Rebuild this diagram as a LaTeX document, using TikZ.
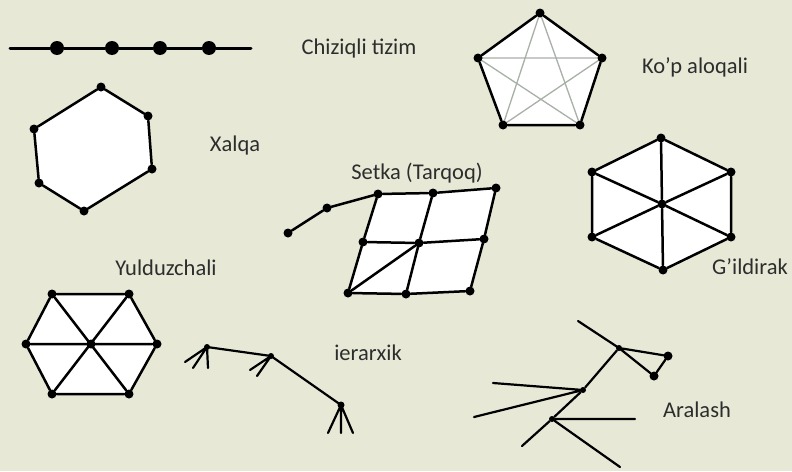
\documentclass[tikz,border=0pt]{standalone}
\usepackage{fontspec}
\setmainfont{Carlito}
\usetikzlibrary{backgrounds}
\definecolor{bgcol}{RGB}{231,233,214}
\definecolor{txtcol}{RGB}{45,45,45}
\definecolor{starcol}{RGB}{168,176,168}

\begin{document}
\begin{tikzpicture}[
  x=1pt, y=-1pt,
  font=\fontsize{22.5}{26}\selectfont,
  dot/.style={circle, fill=black, inner sep=0pt, minimum size=9pt},
  bigdot/.style={circle, fill=black, inner sep=0pt, minimum size=14pt},
  link/.style={line width=2.5pt, line cap=round, line join=round},
  thinlink/.style={line width=1.3pt, draw=starcol},
  title/.style={text=txtcol, inner sep=0pt, anchor=base}
]

% Background
\begin{scope}[on background layer]
  \fill[bgcol] (0,0) rectangle (792,471);
\end{scope}

% Chiziqli tizim
\coordinate (l0) at (10,48);
\coordinate (l5) at (251,48);
\node[bigdot] (l1) at (57,48) {};
\node[bigdot] (l2) at (112,48) {};
\node[bigdot] (l3) at (160,48) {};
\node[bigdot] (l4) at (209,48) {};
\draw[link, line width=3pt] (l0) -- (l1) -- (l2) -- (l3) -- (l4) -- (l5);
\node[title] (tline) at (359,54) {Chiziqli tizim};

% Ko'p aloqali
\node[dot] (p1) at (540,13) {};
\node[dot] (p2) at (602,58) {};
\node[dot] (p3) at (580,125) {};
\node[dot] (p4) at (503,125) {};
\node[dot] (p5) at (478,58) {};
\begin{scope}[on background layer]
  \fill[white] (p1.center) -- (p2.center) -- (p3.center) -- (p4.center) -- (p5.center) -- cycle;
  \draw[thinlink] (p1.center) -- (p3.center) (p1.center) -- (p4.center)
    (p2.center) -- (p4.center) (p2.center) -- (p5.center) (p3.center) -- (p5.center);
\end{scope}
\draw[link] (p1) -- (p2) -- (p3) -- (p4) -- (p5) -- (p1);
\node[title] (tmulti) at (695,73) {Ko’p aloqali};

% Xalqa
\node[dot] (r1) at (101,87) {};
\node[dot] (r2) at (148,116) {};
\node[dot] (r3) at (152,169) {};
\node[dot] (r4) at (84,211) {};
\node[dot] (r5) at (39,183) {};
\node[dot] (r6) at (34,129) {};
\begin{scope}[on background layer]
  \fill[white] (r1.center) -- (r2.center) -- (r3.center) -- (r4.center) -- (r5.center) -- (r6.center) -- cycle;
\end{scope}
\draw[link] (r1) -- (r2) -- (r3) -- (r4) -- (r5) -- (r6) -- (r1);
\node[title] (tring) at (235,151) {Xalqa};

% Setka (Tarqoq)
\node[dot] (s1) at (288,233) {};
\node[dot] (s2) at (327,208) {};
\node[dot] (ga) at (378,194) {};
\node[dot] (gb) at (433,193) {};
\node[dot] (gc) at (496,188) {};
\node[dot] (gd) at (363,242) {};
\node[dot] (ge) at (419,243) {};
\node[dot] (gf) at (484,239) {};
\node[dot] (gg) at (348,293) {};
\node[dot] (gh) at (406,294) {};
\node[dot] (gi) at (470,291) {};
\begin{scope}[on background layer]
  \fill[white] (ga.center) -- (gc.center) -- (gi.center) -- (gg.center) -- cycle;
\end{scope}
\draw[link] (s1) -- (s2) -- (ga) -- (gb) -- (gc);
\draw[link] (gd) -- (ge) -- (gf);
\draw[link] (gg) -- (gh) -- (gi);
\draw[link] (ga) -- (gd) -- (gg);
\draw[link] (gb) -- (ge) -- (gh);
\draw[link] (gc) -- (gf) -- (gi);
\draw[link] (gg) -- (ge);
\node[title] (tgrid) at (417,179) {Setka (Tarqoq)};

% G'ildirak
\node[dot] (w0) at (662,204) {};
\node[dot] (w1) at (661,138) {};
\node[dot] (w2) at (731,172) {};
\node[dot] (w3) at (731,237) {};
\node[dot] (w4) at (663,270) {};
\node[dot] (w5) at (592,237) {};
\node[dot] (w6) at (592,172) {};
\begin{scope}[on background layer]
  \fill[white] (w1.center) -- (w2.center) -- (w3.center) -- (w4.center) -- (w5.center) -- (w6.center) -- cycle;
\end{scope}
\draw[link] (w1) -- (w2) -- (w3) -- (w4) -- (w5) -- (w6) -- (w1);
\foreach \k in {1,...,6}
  \draw[link] (w0) -- (w\k);
\node[title] (twheel) at (750,274) {G’ildirak};

% Yulduzchali
\node[dot] (y0) at (91,344) {};
\node[dot] (y1) at (52,294) {};
\node[dot] (y2) at (129,294) {};
\node[dot] (y3) at (157,344) {};
\node[dot] (y4) at (129,394) {};
\node[dot] (y5) at (52,394) {};
\node[dot] (y6) at (26,344) {};
\begin{scope}[on background layer]
  \fill[white] (y1.center) -- (y2.center) -- (y3.center) -- (y4.center) -- (y5.center) -- (y6.center) -- cycle;
\end{scope}
\draw[link] (y1) -- (y2) -- (y3) -- (y4) -- (y5) -- (y6) -- (y1);
\draw[link] (y1) -- (y4) (y2) -- (y5) (y3) -- (y6);
\node[title] (tstar) at (166,275) {Yulduzchali};

% ierarxik
\coordinate (h1) at (207,347);
\coordinate (h2) at (271,356);
\coordinate (h3) at (341,405);
\coordinate (h1a) at (185,362);
\coordinate (h1b) at (193,368);
\coordinate (h1c) at (208,368);
\coordinate (h2a) at (250,370);
\coordinate (h2b) at (257,376);
\coordinate (h3a) at (328,433);
\coordinate (h3b) at (341,433);
\coordinate (h3c) at (353,433);
\draw[link, line width=2.2pt] (h1) -- (h2) -- (h3);
\draw[link, line width=2.2pt] (h1) -- (h1a) (h1) -- (h1b) (h1) -- (h1c);
\draw[link, line width=2.2pt] (h2) -- (h2a) (h2) -- (h2b);
\draw[link, line width=2.2pt] (h3) -- (h3a) (h3) -- (h3b) (h3) -- (h3c);
\fill (h1) circle (3pt) (h2) circle (3pt) (h3) circle (3.5pt);
\node[title] (ttree) at (368,360) {ierarxik};

% Aralash
\node[dot, minimum size=6pt] (m1) at (619,348) {};
\node[dot] (m2) at (668,356) {};
\node[dot] (m3) at (654,376) {};
\node[dot, minimum size=6pt] (m4) at (583,390) {};
\node[dot, minimum size=6pt] (m5) at (552,419) {};
\coordinate (m1a) at (578,321);
\coordinate (m4a) at (493,383);
\coordinate (m4b) at (474,417);
\coordinate (m5a) at (522,446);
\coordinate (m5b) at (635,419);
\coordinate (m5c) at (620,467);
\draw[link, line width=2.2pt] (m1a) -- (m1.center) -- (m3) -- (m2) -- (m1);
\draw[link, line width=2.2pt] (m1) -- (m4) -- (m5) -- (m5a);
\draw[link, line width=2.2pt] (m4a) -- (m4) -- (m4b);
\draw[link, line width=2.2pt] (m5b) -- (m5) -- (m5c);
\node[title] (tmixed) at (697,417) {Aralash};

\end{tikzpicture}
\end{document}
